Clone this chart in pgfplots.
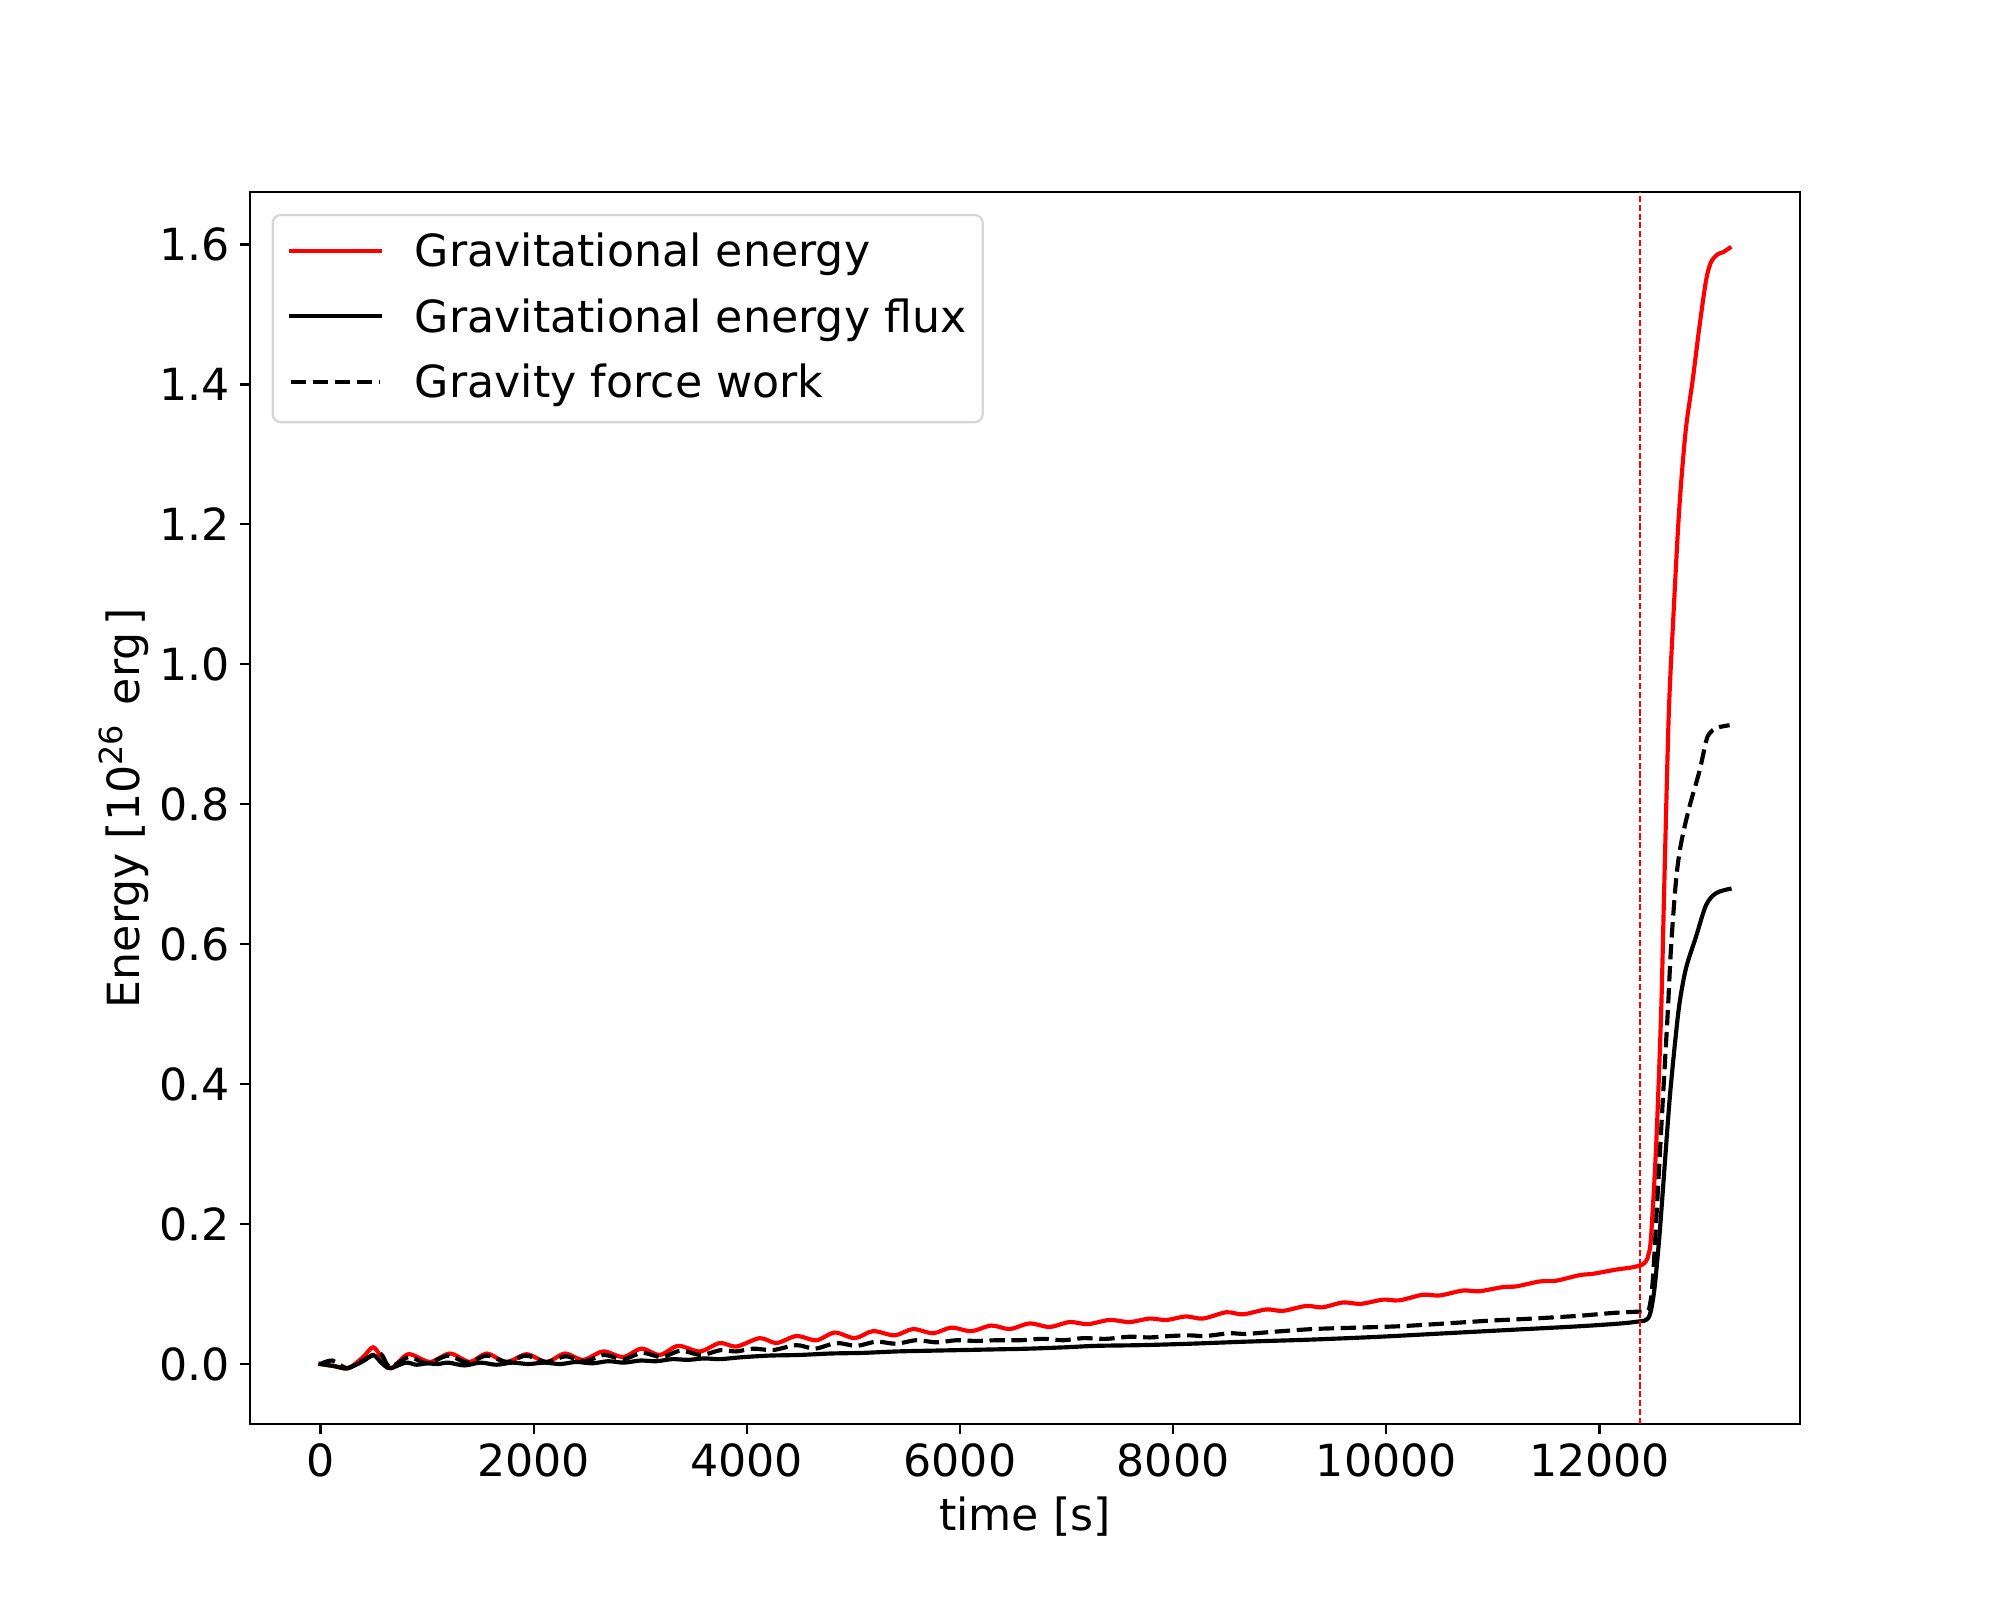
\documentclass[border=0pt]{standalone}
\usepackage{fontspec}
\setmainfont{DejaVu Sans}
\usepackage{pgfplots}
\pgfplotsset{compat=1.18}
\newcommand{\mpl}{\fontsize{16}{19.2}\selectfont}
\begin{document}
\begin{tikzpicture}
\path[use as bounding box] (-1.25in,-0.88in) rectangle (8.75in,7.12in);
\begin{axis}[
  at={(0,0)}, anchor=south west,
  scale only axis, width=7.75in, height=6.16in,
  xmin=-661, xmax=13881, ymin=-0.0857, ymax=1.675,
  xtick={0,2000,4000,6000,8000,10000,12000},
  ytick={0,0.2,0.4,0.6,0.8,1.0,1.2,1.4,1.6},
  scaled ticks=false,
  xticklabel style={/pgf/number format/1000 sep={}},
  yticklabel style={/pgf/number format/.cd, fixed, fixed zerofill, precision=1},
  /pgf/number format/assume math mode=true,
  tick pos=left, tick align=outside,
  major tick length=3.5pt,
  every tick/.style={black, line width=0.8pt},
  axis line style={line width=0.8pt},
  tick label style={font=\mpl, inner sep=3.5pt},
  label style={font=\mpl},
  xlabel={time [s]},
  ylabel={Energy [10\raisebox{0.38em}{\fontsize{11.5}{12}\selectfont 26}\hspace{0.45em}erg\,]},
  xlabel style={at={(axis description cs:0.5,-0.0755)}, anchor=center, inner sep=0pt},
  ylabel style={at={(axis description cs:-0.0652,0.5)}, anchor=south, inner sep=0pt},
  legend style={at={(axis description cs:0,1)}, anchor=north west, xshift=7.8pt, yshift=-7.9pt,
    draw=black!16, line width=0.8pt, fill=white, rounded corners=3pt,
    inner xsep=5.9pt, inner ysep=6pt, row sep=8.2pt, font=\mpl,
    nodes={inner sep=0pt, text height=12.7pt, text depth=2.8pt, anchor=base west},
    /tikz/every odd column/.append style={column sep=12pt}},
  legend cell align=left,
  legend image code/.code={\draw[#1] (0pt,5.8pt) -- (32pt,5.8pt);},
]
% Gravitational energy
\addplot[red, line width=1.5pt, line cap=rect, smooth, tension=0.5] coordinates {
(0,0) (130,-0.003) (261,-0.006) (400,0.010) (495,0.024) (580,0.008) (667,-0.006)
(824,0.014) (1027,0.003) (1214,0.015) (1402,0.003) (1559,0.015) (1746,0.003)
(1934,0.014) (2121,0.003) (2293,0.015) (2465,0.006) (2652,0.018) (2840,0.010)
(3012,0.022) (3184,0.013) (3356,0.026) (3559,0.018) (3747,0.030) (3903,0.025)
(4122,0.037) (4278,0.030) (4466,0.040) (4653,0.034) (4825,0.045) (5013,0.037)
(5184,0.047) (5387,0.041) (5559,0.050) (5747,0.044) (5919,0.052) (6106,0.047)
(6294,0.055) (6466,0.050) (6653,0.058) (6841,0.053) (7029,0.060) (7200,0.057)
(7404,0.063) (7591,0.060) (7779,0.065) (7935,0.063) (8120,0.068) (8280,0.065)
(8498,0.074) (8655,0.071) (8873,0.078) (9030,0.076) (9249,0.083) (9400,0.081)
(9593,0.088) (9760,0.086) (9968,0.092) (10120,0.091) (10343,0.099) (10500,0.098)
(10718,0.105) (10870,0.104) (11094,0.110) (11220,0.111) (11438,0.118) (11590,0.119)
(11813,0.127) (11940,0.129) (12157,0.135) (12300,0.138) (12400,0.142) (12440,0.148)
(12462,0.158) (12484,0.183) (12531,0.311) (12578,0.502) (12609,0.693) (12650,0.930)
(12693,1.068) (12734,1.187) (12765,1.258) (12812,1.339) (12874,1.406) (12937,1.482)
(13000,1.549) (13047,1.575) (13109,1.586) (13160,1.589) (13220,1.595)
};
\addlegendentry{Gravitational energy}
% Gravitational energy flux
\addplot[black, line width=1.5pt, line cap=rect, smooth, tension=0.5] coordinates {
(0,0) (130,-0.003) (250,-0.006) (400,0.004) (495,0.013) (570,0.002) (651,-0.006)
(800,0.002) (900,-0.001) (1000,0.001) (1100,0.000) (1200,0.002) (1350,-0.002)
(1500,0.002) (1650,-0.001) (1800,0.002) (1950,0.000) (2100,0.002) (2250,0.000)
(2400,0.003) (2550,0.001) (2700,0.004) (2850,0.002) (3000,0.005) (3150,0.004)
(3300,0.007) (3450,0.006) (3600,0.008) (3750,0.007) (3934,0.0095) (4200,0.012)
(4500,0.013) (4778,0.015) (5100,0.016) (5404,0.018) (5700,0.019) (6029,0.020)
(6350,0.021) (6653,0.022) (7000,0.024) (7279,0.026) (7700,0.027) (8154,0.029)
(8686,0.032) (9310,0.035) (9936,0.039) (10561,0.044) (11187,0.049) (11813,0.054)
(12200,0.058) (12376,0.061) (12437,0.063) (12475,0.072) (12515,0.107) (12562,0.183)
(12609,0.279) (12656,0.375) (12703,0.451) (12750,0.515) (12812,0.566) (12906,0.611)
(13000,0.656) (13094,0.673) (13220,0.679)
};
\addlegendentry{Gravitational energy flux}
% Gravity force work
\addplot[black, line width=1.5pt, dash pattern=on 5.55pt off 2.4pt, smooth, tension=0.5] coordinates {
(0,0) (110,0.005) (250,-0.006) (380,0.004) (557,0.015) (651,-0.004) (830,0.010)
(1000,0.001) (1200,0.012) (1380,0.002) (1560,0.012) (1750,0.003) (1930,0.012)
(2120,0.003) (2300,0.011) (2480,0.004) (2660,0.013) (2840,0.007) (3020,0.016)
(3200,0.010) (3380,0.019) (3570,0.013) (3760,0.020) (3900,0.018) (4060,0.022)
(4247,0.020) (4466,0.027) (4640,0.022) (4841,0.030) (5030,0.026) (5216,0.032)
(5400,0.029) (5591,0.034) (5780,0.031) (5966,0.034) (6150,0.033) (6341,0.034)
(6560,0.034) (6778,0.036) (6970,0.034) (7154,0.037) (7370,0.036) (7591,0.039)
(7780,0.038) (7966,0.040) (8154,0.041) (8300,0.040) (8529,0.044) (8680,0.043)
(8935,0.046) (9310,0.050) (9717,0.052) (10123,0.054) (10561,0.058) (10968,0.062)
(11375,0.065) (11813,0.069) (12126,0.073) (12376,0.075) (12437,0.076) (12468,0.081)
(12500,0.120) (12547,0.247) (12593,0.375) (12640,0.502) (12672,0.598) (12719,0.693)
(12765,0.744) (12843,0.796) (12937,0.847) (13000,0.890) (13031,0.901) (13094,0.909)
(13220,0.913)
};
\addlegendentry{Gravity force work}
% vertical marker
\addplot[red, line width=0.7pt, dash pattern=on 2.2pt off 1pt, forget plot] coordinates {(12383,-0.0857) (12383,1.675)};
\end{axis}
\end{tikzpicture}
\end{document}
